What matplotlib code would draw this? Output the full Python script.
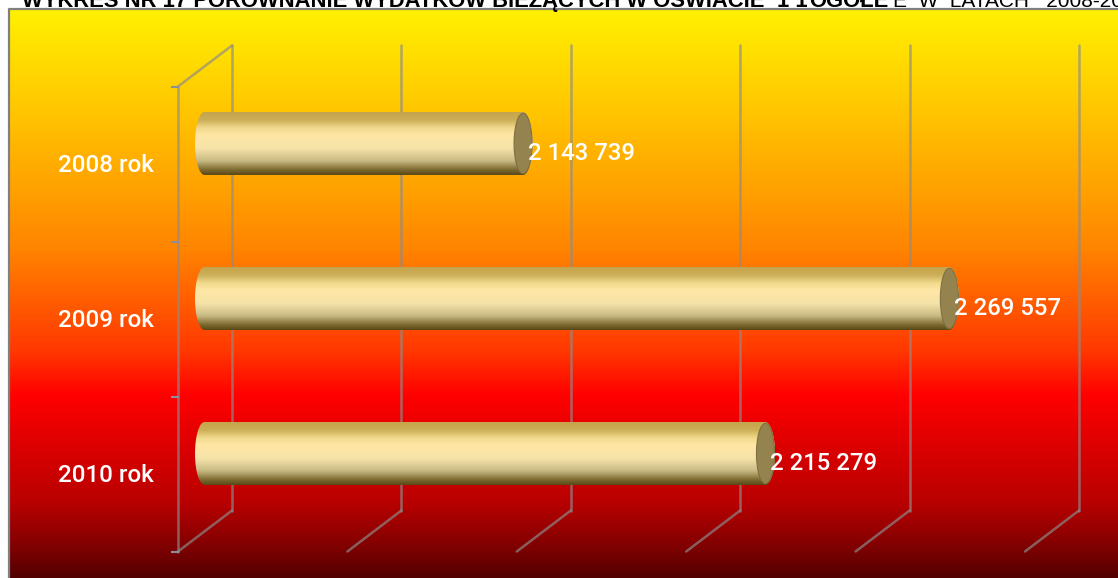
import numpy as np
import matplotlib
matplotlib.use("Agg")
import matplotlib.pyplot as plt
from matplotlib.colors import LinearSegmentedColormap
from matplotlib.patches import Ellipse, PathPatch
from matplotlib.path import Path

years = ["2008 rok", "2009 rok", "2010 rok"]
values = [2143739, 2269557, 2215279]
value_labels = ["2 143 739", "2 269 557", "2 215 279"]
axis_ticks = [2050000, 2100000, 2150000, 2200000, 2250000, 2300000]
title_bold = "WYKRES NR 17 PORÓWNANIE WYDATKÓW BIEŻĄCYCH W OŚWIACIE"
title_mid = "1 1"
title_end = "OGÓŁE"
title_regular = "E  W  LATACH   2008-2010"

W, H = 1118, 578
PX_PER_UNIT = 169.4 / 50000
FRONT_PX = 178
DEPTH_X, DEPTH_Y = 54, 41
ROW_PX, ROW0_PX = 155, 143.5

fig = plt.figure(figsize=(W / 100, H / 100), dpi=100, facecolor="white")
ax = fig.add_axes([0, 0, 1, 1])
ax.axis("off")

# data scale: value on x, category index on y (axes covers the whole figure)
x0 = axis_ticks[0] - FRONT_PX / PX_PER_UNIT
x1 = x0 + W / PX_PER_UNIT
y_top = -ROW0_PX / ROW_PX
y_bot = y_top + H / ROW_PX
dx = 1 / PX_PER_UNIT   # one pixel in x data units
dy = 1 / ROW_PX        # one pixel in y data units


def hpx(p):
    return x0 + p * dx


def vpx(p):
    return y_top + p * dy


# background
bg_stops = [(0.0, "#FFF000"), (0.15, "#FFCC00"), (0.32, "#FFA000"), (0.42, "#FF8400"),
            (0.60, "#FF3800"), (0.68, "#FF0000"), (0.76, "#E00000"), (0.87, "#B80000"),
            (0.95, "#7E0000"), (1.0, "#540000")]
bg = LinearSegmentedColormap.from_list("bg", bg_stops)
ax.imshow(np.linspace(0, 1, 568).reshape(-1, 1), cmap=bg, aspect="auto",
          extent=[hpx(10), x1, vpx(578), vpx(10)], zorder=0)
ax.plot([hpx(9), hpx(9), x1], [y_bot, vpx(9), vpx(9)], color="#808080", lw=1.6, zorder=1)

# 3-D axis frame: the floor and wall sit 20 px below the row bands of the cylinders
grid_kw = dict(color="#8C8C8C", alpha=0.68, lw=1.8, solid_capstyle="round", zorder=2)
frame_shift = 20.5 * dy
floor_front = len(years) - 0.5 + frame_shift
floor_back = floor_front - DEPTH_Y * dy
top_front = -0.5 + frame_shift
top_back = top_front - DEPTH_Y * dy
for t in axis_ticks:
    ax.plot([t + DEPTH_X * dx] * 2, [top_back, floor_back], **grid_kw)
    ax.plot([t, t + DEPTH_X * dx], [floor_front, floor_back], **grid_kw)
ax.plot([axis_ticks[0]] * 2, [top_front, floor_front], **grid_kw)
ax.plot([axis_ticks[0], axis_ticks[0] + DEPTH_X * dx], [top_front, top_back], **grid_kw)
for b in np.arange(len(years) + 1) - 0.5 + frame_shift:
    ax.plot([axis_ticks[0] - 6 * dx, axis_ticks[0]], [b, b], color="#8A8FA0", lw=1.5, zorder=2)

# cylinders
bar_stops = [(0.0, "#C4A54E"), (0.12, "#CCAF58"), (0.24, "#EFD78A"), (0.36, "#FFE7A5"),
             (0.58, "#F5E3A8"), (0.78, "#C9BA84"), (0.92, "#7F6C32"), (1.0, "#5C4A18")]
bar_cmap = LinearSegmentedColormap.from_list("bar", bar_stops)
half_h = 31.5 * dy
cap_w = 9.5 * dx
mid = (DEPTH_X / 2 + 0.5) * dx
k = 0.5523
for i, (v, lab, yr) in enumerate(zip(values, value_labels, years)):
    left = axis_ticks[0] + mid - 1 * dx
    right = v + mid
    verts = [(left, i - half_h),
             (left - k * cap_w, i - half_h), (left - cap_w, i - k * half_h), (left - cap_w, i),
             (left - cap_w, i + k * half_h), (left - k * cap_w, i + half_h), (left, i + half_h),
             (right, i + half_h),
             (right + k * cap_w, i + half_h), (right + cap_w, i + k * half_h), (right + cap_w, i),
             (right + cap_w, i - k * half_h), (right + k * cap_w, i - half_h), (right, i - half_h),
             (left, i - half_h)]
    codes = [Path.MOVETO] + [Path.CURVE4] * 6 + [Path.LINETO] + [Path.CURVE4] * 6 + [Path.CLOSEPOLY]
    shape = PathPatch(Path(verts, codes), facecolor="none", edgecolor="none", zorder=3)
    ax.add_patch(shape)
    im = ax.imshow(np.linspace(0, 1, 64).reshape(-1, 1), cmap=bar_cmap, aspect="auto",
                   extent=[left - cap_w, right + cap_w, i + half_h, i - half_h], zorder=3)
    im.set_clip_path(shape)
    ax.add_patch(Ellipse((right, i), 2 * cap_w * 0.95, 2 * half_h * 0.96,
                         facecolor="#94834E", edgecolor="#7F7040", lw=0.8, zorder=4))
    ax.text(right + 4.5 * dx, i + 10 * dy, lab, family="Roboto", fontweight="medium",
            fontsize=17.2, color="white", ha="left", va="center", zorder=5)
    ax.text(hpx(154), i + 22 * dy, yr, family="Roboto", fontweight="medium", fontsize=17.4,
            color="white", ha="right", va="center", zorder=5)

# title, cut by the top of the picture
bold_kw = dict(family="Liberation Sans", fontweight="bold", fontsize=15.85, color="black",
               ha="left", va="baseline", zorder=6, clip_on=False)
ax.text(hpx(22), vpx(7), title_bold, **bold_kw)
ax.text(hpx(777), vpx(7), title_mid, **bold_kw)
ax.text(hpx(809), vpx(7), title_end, **bold_kw)
ax.text(hpx(893), vpx(7), title_regular, family="Liberation Sans", fontsize=15,
        color="black", ha="left", va="baseline", zorder=6, clip_on=False)

ax.set_xlim(x0, x1)
ax.set_ylim(y_bot, y_top)
fig.savefig("out.png", dpi=100, facecolor="white")
